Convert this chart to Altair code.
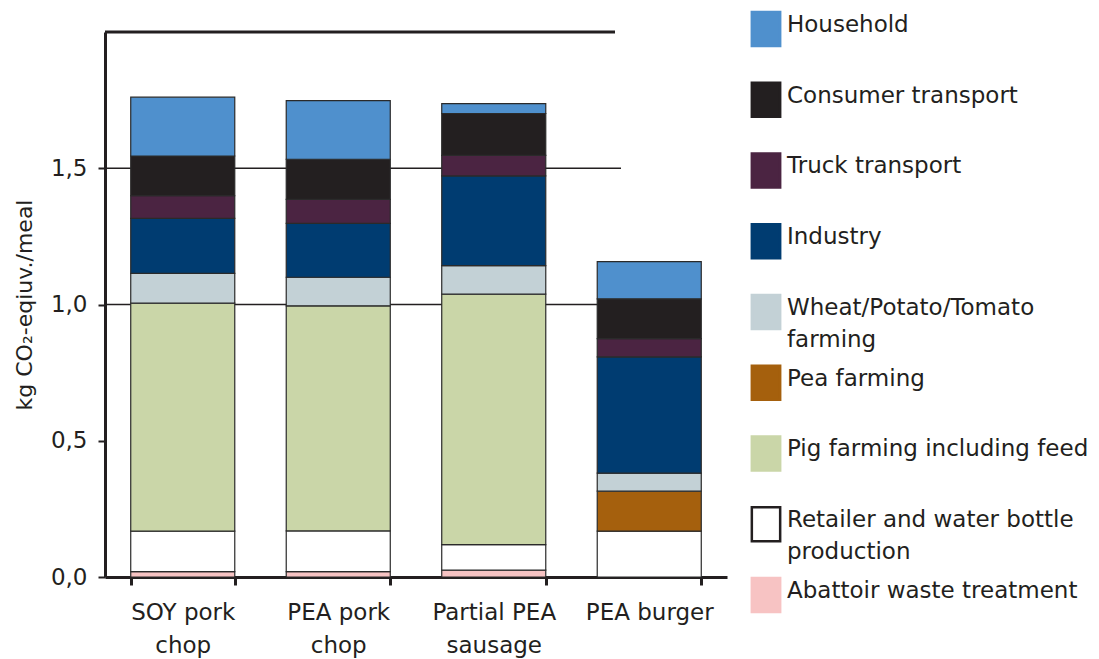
import altair as alt
import pandas as pd

# ---------------- data ----------------
categories = ["SOY pork chop", "PEA pork chop", "Partial PEA sausage", "PEA burger"]

# stacking order, bottom -> top
segments = [
    "Abattoir waste treatment",
    "Retailer and water bottle production",
    "Pea farming",
    "Pig farming including feed",
    "Wheat/Potato/Tomato farming",
    "Industry",
    "Truck transport",
    "Consumer transport",
    "Household",
]
abattoir = [0.020, 0.020, 0.025, 0.0]
retailer = [0.148, 0.149, 0.094, 0.168]
pea = [0.0, 0.0, 0.0, 0.147]
pig = [0.837, 0.826, 0.919, 0.0]
wheat = [0.109, 0.105, 0.105, 0.066]
industry = [0.202, 0.198, 0.329, 0.427]
truck = [0.083, 0.088, 0.075, 0.067]
consumer = [0.146, 0.147, 0.154, 0.146]
household = [0.216, 0.215, 0.036, 0.136]

colors = ["#f7c3c3", "#ffffff", "#a5600d", "#cad6a8", "#c3d1d6",
          "#003c71", "#4b2442", "#231f20", "#4f90cd"]

# legend, top -> bottom
legend_segments = [
    "Household",
    "Consumer transport",
    "Truck transport",
    "Industry",
    "Wheat/Potato/Tomato farming",
    "Pea farming",
    "Pig farming including feed",
    "Retailer and water bottle production",
    "Abattoir waste treatment",
]
legend_labels = [
    "Household",
    "Consumer transport",
    "Truck transport",
    "Industry",
    "Wheat/Potato/Tomato\nfarming",
    "Pea farming",
    "Pig farming including feed",
    "Retailer and water bottle\nproduction",
    "Abattoir waste treatment",
]

y_ticks = [0.0, 0.5, 1.0, 1.5]
grid_values = [1.0, 1.5]
top_value = [2.0]

# ---------------- tables ----------------
series = [abattoir, retailer, pea, pig, wheat, industry, truck, consumer, household]
rows = []
for si, (seg, vals) in enumerate(zip(segments, series)):
    for cat, v in zip(categories, vals):
        if v > 0:
            rows.append({"meal": cat, "segment": seg, "value": v, "stack": si})
df = pd.DataFrame(rows)

leg_df = pd.DataFrame({
    "segment": legend_segments,
    "label": legend_labels,
    "idx": list(range(len(legend_segments))),
})

INK = "#231f20"
FONT = "DejaVu Sans"

color_scale = alt.Scale(domain=segments, range=colors)

y_axis = alt.Axis(
    values=y_ticks,
    labelExpr="replace(format(datum.value, '.1f'), '.', ',')",
    title="kg CO₂-eqiuv./meal",
    titleFontSize=22,
    titleFontWeight="normal",
    titlePadding=14,
    labelFontSize=23,
    labelPadding=11,
    tickSize=7,
    tickWidth=2,
    domainWidth=3,
    grid=False,
)
y_scale = alt.Scale(domain=[0, 2], nice=False)

bars = alt.Chart(df).mark_bar(stroke="#2a2a2a", strokeWidth=1.2).encode(
    x=alt.X(
        "meal:N",
        sort=categories,
        scale=alt.Scale(paddingInner=0.331, paddingOuter=0.1655),
        axis=alt.Axis(
            title=None,
            labelAngle=0,
            tickBand="extent",
            labelExpr="length(datum.label) > 10 ? [substring(datum.label, 0, lastindexof(datum.label, ' ')), substring(datum.label, lastindexof(datum.label, ' ') + 1)] : datum.label",
            labelFontSize=23,
            labelLineHeight=33,
            labelPadding=16,
            tickSize=8,
            tickWidth=3,
            domainWidth=3,
        ),
    ),
    y=alt.Y("value:Q", stack="zero", scale=y_scale, axis=y_axis),
    color=alt.Color("segment:N", scale=color_scale, legend=None),
    order=alt.Order("stack:Q", sort="ascending"),
)

grid = alt.Chart(pd.DataFrame({"value": grid_values})).mark_rule(
    color=INK, strokeWidth=1.5
).encode(
    y=alt.Y("value:Q", scale=y_scale, axis=y_axis),
    x=alt.value(0),
    x2=alt.value(516),
)

top = alt.Chart(pd.DataFrame({"value": top_value})).mark_rule(
    color=INK, strokeWidth=3
).encode(
    y=alt.Y("value:Q", scale=y_scale, axis=y_axis),
    x=alt.value(0),
    x2=alt.value(510),
)

main = alt.layer(grid, top, bars).properties(width=622, height=545)

# ---------------- legend ----------------
leg_y = alt.Y("idx:Q", scale=alt.Scale(domain=[0.0424, 7.746], reverse=True, nice=False, zero=False), axis=None)
swatch_path = "M-0.8333,-1H0.8333V1H-0.8333Z"
strokes = [c if s != "Retailer and water bottle production" else INK for s, c in zip(segments, colors)]

swatches = alt.Chart(leg_df).mark_point(
    shape=swatch_path, size=1156, filled=True, opacity=1, strokeWidth=2.5
).encode(
    x=alt.value(15),
    y=leg_y,
    color=alt.Color("segment:N", scale=color_scale, legend=None),
    stroke=alt.Stroke("segment:N", scale=alt.Scale(domain=segments, range=strokes), legend=None),
)

texts = alt.Chart(leg_df).mark_text(
    align="left", baseline="alphabetic", dy=3, fontSize=23, lineBreak="\n",
    lineHeight=32, color=INK, font=FONT
).encode(
    x=alt.value(36),
    y=leg_y,
    text="label:N",
)

legend = alt.layer(swatches, texts).properties(width=320, height=545)

chart = alt.hconcat(main, legend, spacing=24, bounds="flush").properties(
    padding={"left": 5, "top": -1, "right": 2, "bottom": 2}
).configure(
    font=FONT, view=alt.ViewConfig(stroke=None)
).configure_axis(
    domainColor=INK, tickColor=INK, labelColor=INK, titleColor=INK, labelFont=FONT, titleFont=FONT
)

chart.save("out.html", embed_options={"renderer": "svg", "actions": False})
